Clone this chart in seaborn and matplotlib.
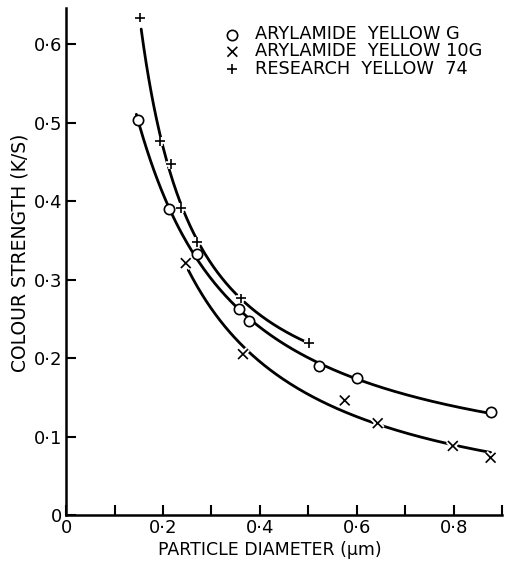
import numpy as np
import pandas as pd
import matplotlib
matplotlib.use("Agg")
import matplotlib.pyplot as plt
import matplotlib.patheffects as pe
import seaborn as sns

# ---- data ----
g_x = [0.148, 0.212, 0.270, 0.357, 0.378, 0.522, 0.600, 0.876]
g_y = [0.504, 0.390, 0.332, 0.262, 0.247, 0.190, 0.175, 0.131]

g10_x = [0.247, 0.365, 0.575, 0.643, 0.798, 0.876]
g10_y = [0.321, 0.205, 0.146, 0.117, 0.088, 0.073]

r74_x = [0.152, 0.194, 0.217, 0.237, 0.270, 0.361, 0.501]
r74_y = [0.634, 0.476, 0.447, 0.391, 0.348, 0.276, 0.219]

labels = ["ARYLAMIDE  YELLOW G", "ARYLAMIDE  YELLOW 10G", "RESEARCH  YELLOW  74"]
curve_ranges = [(0.145, 0.876), (0.252, 0.876), (0.155, 0.501)]
fit_degrees = [2, 2, 3]

x_ticks = [0, 0.1, 0.2, 0.3, 0.4, 0.5, 0.6, 0.7, 0.8, 0.9]
x_ticklabels = ["0", "", "0·2", "", "0·4", "", "0·6", "", "0·8", ""]
y_ticks = [0, 0.1, 0.2, 0.3, 0.4, 0.5, 0.6]
y_ticklabels = ["0", "0·1", "0·2", "0·3", "0·4", "0·5", "0·6"]

sns.set_theme(style="ticks")
plt.rcParams['font.family'] = ['DejaVu Sans']
for k in ["text.color", "axes.labelcolor", "xtick.color", "ytick.color", "axes.edgecolor"]:
    plt.rcParams[k] = "black"

fig = plt.figure(figsize=(5.12, 5.62), dpi=100)
ax = fig.add_axes([0.129, 0.0836, 0.852, 0.902])

series = [(g_x, g_y), (g10_x, g10_y), (r74_x, r74_y)]
markers = ["o", "x", "+"]

# smooth fitted curves: polynomial in 1/x
for (xs, ys), (lo, hi), deg in zip(series, curve_ranges, fit_degrees):
    c = np.polyfit(1.0 / np.asarray(xs), ys, deg)
    xx = np.linspace(lo, hi, 200)
    yy = np.polyval(c, 1.0 / xx)
    sns.lineplot(x=xx, y=yy, ax=ax, color="black", linewidth=2.0,
                 legend=False, sort=False, zorder=2)

for (xs, ys), m, lab in zip(series, markers, labels):
    df = pd.DataFrame({"x": xs, "y": ys})
    if m == "o":
        sns.scatterplot(data=df, x="x", y="y", ax=ax, marker="o", s=55,
                        facecolor="white", edgecolor="black", linewidth=1.2,
                        label=lab, zorder=4)
    else:
        sns.scatterplot(data=df, x="x", y="y", ax=ax, marker=m, s=50,
                        color="black", linewidth=1.2, label=lab, zorder=4)
        ax.collections[-1].set_path_effects(
            [pe.Stroke(linewidth=4, foreground="white"), pe.Normal()])

ax.set_xlim(0, 0.9)
ax.set_ylim(0, 0.646)
ax.set_xticks(x_ticks)
ax.set_xticklabels(x_ticklabels)
ax.set_yticks(y_ticks)
ax.set_yticklabels(y_ticklabels)
ax.tick_params(direction="in", length=7, width=1.5, labelsize=13,
               colors="black", pad=3)
for s in ["top", "right"]:
    ax.spines[s].set_visible(False)
for s in ["left", "bottom"]:
    ax.spines[s].set_linewidth(1.8)
    ax.spines[s].set_color("black")

ax.set_xlabel("PARTICLE DIAMETER (μm)", fontsize=12.5, color="black")
ax.set_ylabel("COLOUR STRENGTH (K/S)", fontsize=13.5, color="black")
ax.xaxis.set_label_coords(0.466, -0.052)
ax.yaxis.set_label_coords(-0.083, 0.518)

handles, labs = ax.get_legend_handles_labels()
ax.legend(handles, labs, loc="upper left", bbox_to_anchor=(0.367, 0.966),
          frameon=False, handlelength=0.7, handletextpad=0.9,
          labelspacing=-0.05, borderpad=0, borderaxespad=0, fontsize=12.8)

fig.savefig("out.png", dpi=100, facecolor="white")
